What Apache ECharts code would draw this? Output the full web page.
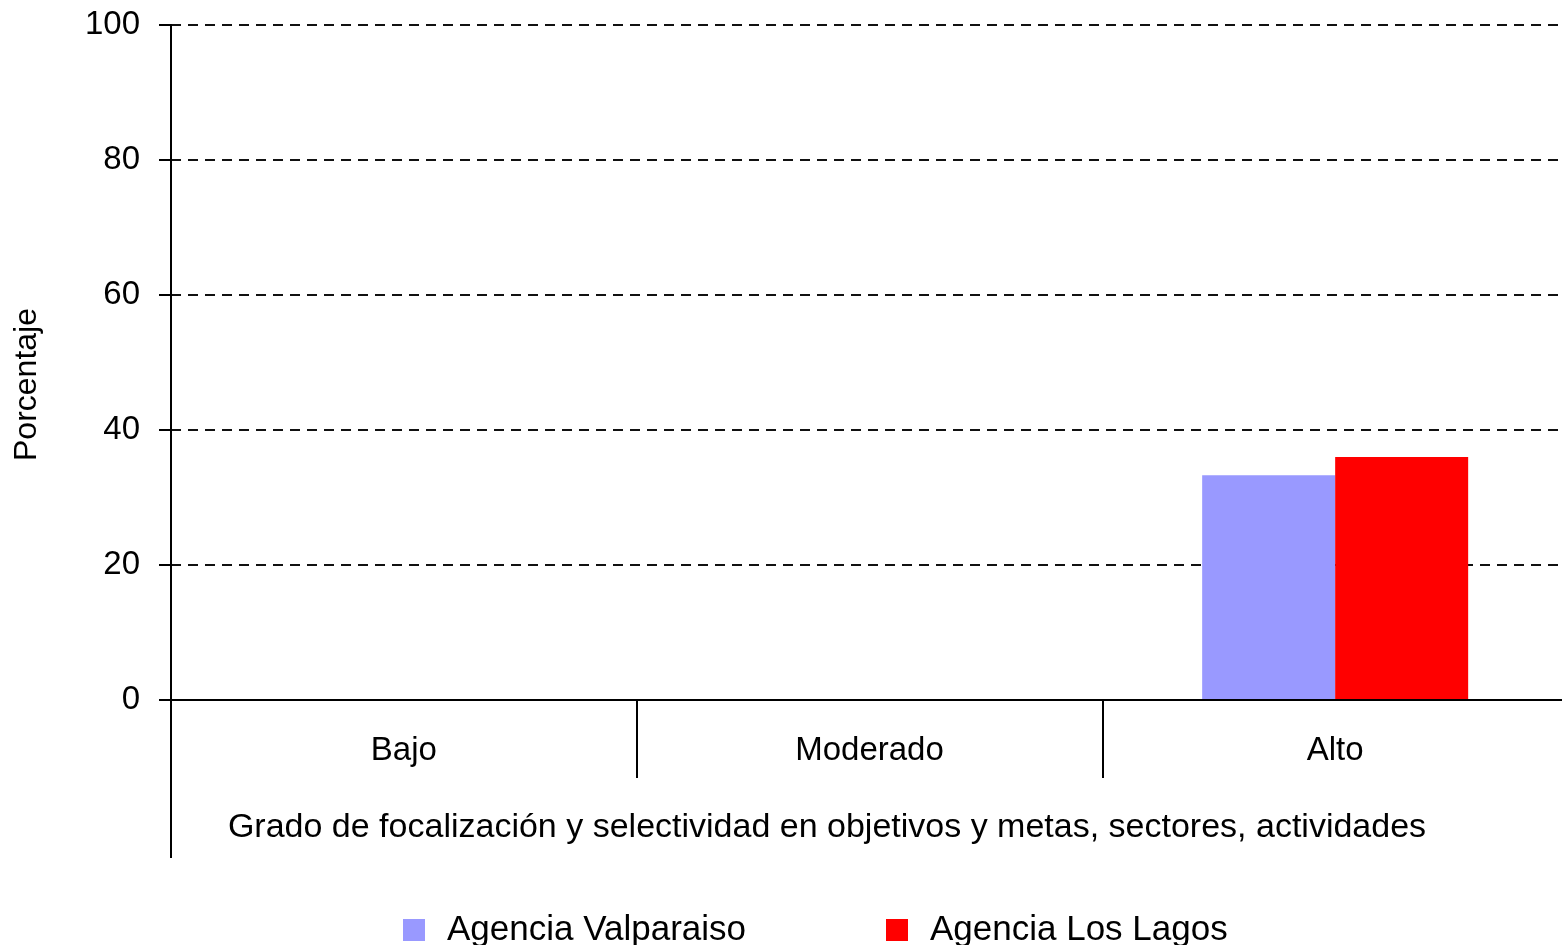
<!DOCTYPE html>
<html>
<head>
<meta charset="utf-8">
<title>Grado de focalización</title>
<script src="https://cdn.jsdelivr.net/npm/echarts@6/dist/echarts.min.js"></script>
<style>
  html, body { margin: 0; padding: 0; background: #fff; }
  #chart { width: 1562px; height: 945px; }
</style>
</head>
<body>
<div id="chart"></div>
<script>
const categories = ['Bajo', 'Moderado', 'Alto']
const valparaiso = [0, 0, 33.3]
const losLagos = [0, 0, 36]
const yTicks = { min: 0, max: 100, interval: 20 }

const FONT = '"Liberation Sans", Arial, sans-serif'
const INK = '#000'

const chart = echarts.init(document.getElementById('chart'), null, { renderer: 'canvas' })

chart.setOption({
  backgroundColor: '#fff',
  animation: false,
  textStyle: { fontFamily: FONT, color: INK },
  // plot runs a little past the right edge of the picture
  grid: { left: 171, width: 1397, top: 25, bottom: 245, outerBoundsMode: 'none', containLabel: false },
  legend: {
    left: 403,
    top: 912,
    padding: 0,
    itemWidth: 22,
    itemHeight: 22,
    itemGap: 140,
    icon: 'rect',
    textStyle: { fontFamily: FONT, fontSize: 35, lineHeight: 36, color: INK, padding: [0, 0, 0, 17] },
    data: ['Agencia Valparaiso', 'Agencia Los Lagos'],
  },
  xAxis: {
    type: 'category',
    data: categories,
    z: 10,
    axisLine: { lineStyle: { color: INK, width: 2 } },
    axisTick: { show: true, length: 78, lineStyle: { color: INK, width: 2 } },
    axisLabel: { fontFamily: FONT, fontSize: 33, color: INK, margin: 34 },
    name: 'Grado de focalización y selectividad en objetivos y metas, sectores, actividades',
    nameLocation: 'middle',
    nameGap: 111,
    nameTextStyle: { fontFamily: FONT, fontSize: 34, color: INK, padding: [0, 85, 0, 0] },
  },
  yAxis: {
    type: 'value',
    min: yTicks.min,
    max: yTicks.max,
    interval: yTicks.interval,
    axisLine: { show: true, lineStyle: { color: INK, width: 2 } },
    axisTick: { show: true, length: 12, lineStyle: { color: INK, width: 2 } },
    axisLabel: { fontFamily: FONT, fontSize: 33, color: INK, margin: 31 },
    splitLine: { lineStyle: { color: '#111', width: 2, type: [10, 7] } },
    name: 'Porcentaje',
    nameLocation: 'middle',
    nameGap: 128,
    nameTextStyle: { fontFamily: FONT, fontSize: 32, color: INK, padding: [0, 44, 0, 0] },
  },
  series: [
    {
      name: 'Agencia Valparaiso',
      type: 'bar',
      data: valparaiso,
      barWidth: 133,
      barGap: '0%',
      itemStyle: { color: '#9999ff' },
    },
    {
      name: 'Agencia Los Lagos',
      type: 'bar',
      data: losLagos,
      barWidth: 133,
      barGap: '0%',
      itemStyle: { color: '#ff0000' },
    },
  ],
})

// the y axis line runs on below the category ticks
const origin = chart.convertToPixel({ gridIndex: 0 }, [0, 0])
const axisX = chart.getModel().getComponent('grid').coordinateSystem.getRect().x
chart.setOption({
  graphic: [{
    type: 'line',
    shape: { x1: axisX, y1: origin[1], x2: axisX, y2: origin[1] + 158 },
    style: { stroke: INK, lineWidth: 2 },
    z: 10,
  }],
})
</script>
</body>
</html>
